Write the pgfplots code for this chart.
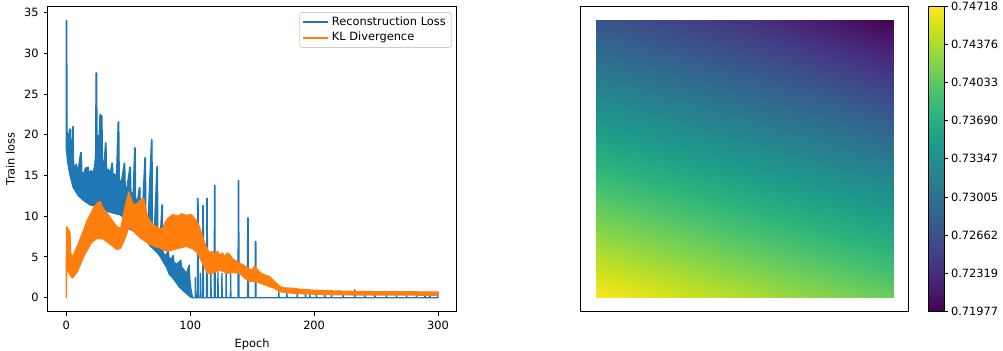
\documentclass[border=0pt]{standalone}
\usepackage{fontspec}
\setmainfont{DejaVu Sans}
\usepackage{pgfplots}
\pgfplotsset{compat=1.18}
\definecolor{tabblue}{HTML}{1F77B4}
\definecolor{taborange}{HTML}{FF7F0E}
\definecolor{legframe}{HTML}{CCCCCC}
\newcommand{\mplfont}{\fontsize{8.2}{9.8}\selectfont}
\pgfplotsset{
  mpl/.style={
    scale only axis,
    /pgf/number format/assume math mode=true,
    tick label style={font=\mplfont, black},
    label style={font=\mplfont},
    axis line style={line width=0.65pt, black},
    tick style={line width=0.65pt, black},
    tick align=outside,
    major tick length=2.9pt,
    xtick pos=bottom, ytick pos=left,
  }
}
\begin{document}
\begin{tikzpicture}
\begin{axis}[mpl,
  at={(34.3pt,27.6pt)}, anchor=south west,
  width=294.5pt, height=220.1pt,
  xmin=-15, xmax=315, ymin=-1.72, ymax=35.82,
  xtick={0,100,200,300}, ytick={0,5,...,35},
  xlabel={Epoch}, ylabel={Train loss},
  legend style={at={(1,1)}, anchor=north east, xshift=-3.6pt, yshift=-4.4pt,
    draw=legframe, rounded corners=1.6pt, fill=white, line width=0.5pt,
    font=\mplfont, inner xsep=2pt, inner ysep=1.2pt, row sep=-0.6pt},
  legend cell align=left,
  legend image code/.code={\draw[#1, line width=1.22pt] (0pt,0pt) -- (18pt,0pt);},
]
\addlegendimage{tabblue}
\addlegendentry{Reconstruction Loss}
\addlegendimage{taborange}
\addlegendentry{KL Divergence}
% Reconstruction loss: band outline (upper envelope with spikes, then lower envelope back)
\addplot[fill=tabblue, draw=tabblue, line width=0.9pt, line join=round, forget plot] coordinates {
(0,18) (0,34.0) (0.4,34.0) (0.7,20.5) (1.5,19.3) (2.3,20.2) (2.9,20.7) (3.4,20.7) (3.8,17.2) (4.6,16.4)
(5.1,21.0) (5.6,21.0) (6.0,16.4) (7,15.9) (8,16.4) (9,15.7) (10,16.1) (11.6,17.8) (12.2,17.8) (12.6,15.4)
(14,15.2) (15.5,15.9) (17.2,16.0) (17.8,16.0) (18.3,15.1) (20,15.6) (21.5,15.3) (23,16.2) (23.8,18.0)
(24.0,27.6) (24.6,27.6) (24.9,17.2) (25.8,19.9) (26.6,19.9) (27.2,22.5) (28.8,22.3) (29.3,17.0) (30.5,16.0)
(31.6,19.0) (32.1,19.0) (32.5,15.5) (34,15.8) (35.5,15.2) (36.8,16.5) (37.3,16.5) (37.7,15.0) (39,15.2)
(40.5,14.6) (41.9,21.6) (42.4,21.6) (42.8,14.5) (44.5,14.2) (46.8,16.5) (47.2,16.5) (47.6,13.6) (49,13.5)
(51.3,16.0) (51.8,16.0) (52.2,13.0) (54,12.6) (55.2,18.4) (55.6,18.4) (56.0,12.2) (57.5,11.8) (58.9,13.5)
(59.4,13.5) (59.8,11.2) (61.5,10.6) (63.5,17.2) (63.9,17.2) (64.3,10.0) (66,9.4) (68.8,19.4) (69.2,19.4)
(69.6,8.6) (71,8.0) (73.2,16.1) (73.6,16.1) (74.0,7.0) (75.5,6.3) (77.2,11.4) (77.6,11.4) (78.0,5.6)
(80,5.1) (82.4,5.8) (82.8,5.0) (84.5,4.7) (86.4,5.2) (86.8,4.4) (89,4.1) (92.5,4.6) (92.9,3.8) (95,3.4)
(97,3.0) (99.2,4.0) (99.6,2.5) (100.5,1.2) (101.5,0.3) (102,0)
(104,0) (104.2,2.5) (104.5,0) (105.8,0) (106.0,12.2) (106.4,12.2) (106.6,0) (108,0) (108.2,3.0) (108.5,0)
(110.0,0) (110.2,11.3) (110.6,11.3) (110.8,0) (113.2,0) (113.4,12.2) (113.8,12.2) (114.0,0)
(116.5,0) (116.7,3.2) (117,0) (119.4,0) (119.6,13.8) (120.0,13.8) (120.2,0) (122.2,0) (122.4,3.2) (122.7,0)
(125.4,0) (125.6,3.0) (125.9,0) (128.8,0) (129.0,3.2) (129.3,0) (132.4,0) (132.6,3.2) (132.9,0)
(138.6,0) (138.8,14.4) (139.2,14.4) (139.4,0) (146.2,0) (146.4,9.8) (146.8,9.8) (147.0,0)
(152.4,0) (152.6,6.9) (153.0,6.9) (153.2,0)
(171.3,0) (171.5,0.7) (171.8,0) (177.8,0) (178,0.6) (178.3,0) (186.2,0) (186.4,0.8) (186.7,0)
(192.8,0) (193,0.7) (193.3,0) (196.3,0) (196.5,0.6) (196.8,0) (201.6,0) (201.8,0.7) (202.1,0)
(208.4,0) (208.6,0.8) (208.9,0) (213.8,0) (214,0.9) (214.3,0) (223.2,0) (223.4,0.6) (223.7,0)
(232.6,0) (232.8,1.0) (233.1,0) (240.7,0) (240.9,0.7) (241.2,0) (248.8,0) (249,0.7) (249.3,0)
(258.2,0) (258.4,0.7) (258.7,0) (266.3,0) (266.5,0.6) (266.8,0) (274.3,0) (274.5,0.6) (274.8,0)
(282.4,0) (282.6,0.6) (282.9,0) (289.2,0) (289.4,0.7) (289.7,0) (293.3,0) (293.5,0.6) (293.8,0)
(299.8,0) (300,0.7) (300,0)
(102,0) (100,0.1) (97,0.5) (94,0.9) (91,1.35) (88,2.0) (85,2.6) (83,2.9) (81,3.7) (79,4.2) (76,5.0)
(73.6,5.5) (71,5.9) (68,6.3) (65,6.9) (62.8,7.3) (60,7.6) (57.4,7.9) (54,8.2) (50.6,8.5) (48,9.3) (46,9.9)
(43,10.2) (40,10.3) (37.6,10.4) (33,10.6) (29.6,10.8) (24,11.2) (19,11.4) (13.4,12.0) (9.4,12.6) (5.4,13.6)
(2.7,15.3) (1,16.8) (0.3,18.1) (0,18)
};
% KL divergence: band outline
\addplot[fill=taborange, draw=taborange, line width=0.9pt, line join=round, forget plot] coordinates {
(0,0) (0.2,8.7) (1,8.6) (2,8.3) (3,8.0) (3.6,5.5) (5,5.0) (6,5.3) (8,6.0) (10,6.7) (12,7.5) (14,8.3)
(17,9.5) (20,10.4) (22,11.0) (25,11.6) (27.5,11.8) (29,11.2) (30.5,10.8) (33,10.4) (37,9.5) (41,8.7)
(44,8.5) (46.5,10.4) (48,11.5) (49.5,12.4) (50.6,13.0) (52,12.3) (53.5,11.6) (55,11.4) (57.5,11.6)
(60,12.0) (62.5,12.2) (64,11.0) (65.5,10.0) (68,9.3) (71,8.9) (74,8.6) (76,8.4) (78,8.6) (80,9.3)
(82,9.75) (86,10.2) (90,10.0) (93,10.3) (97,10.1) (101,10.2) (103,9.8) (105,9.5) (107.5,8.7) (110,7.5)
(112,6.6) (114,5.9) (116,5.5) (118,5.7) (120,5.3) (122,5.7) (124,5.2) (126,5.5) (128,5.0) (130,5.5)
(132,5.3) (134,4.8) (136,4.6) (138,4.4) (140,4.2) (143,4.0) (145,3.8) (148,3.5) (150,3.4) (152,3.9)
(154,3.5) (157,3.0) (160,2.8) (164,2.6) (168,2.0) (172,1.4) (176,1.2) (183,1.15) (190,1.0) (196,0.95)
(210,0.85) (236,0.75) (270,0.72) (300,0.7)
(300,0.3) (270,0.32) (236,0.33) (210,0.38) (196,0.45) (183,0.54) (176,0.65) (172,0.75) (168,1.15)
(164,1.35) (160,1.6) (156,1.8) (153,2.0) (148,2.0) (144,2.4) (140,3.0) (135,3.1) (130,3.0) (124,3.4)
(118,3.0) (114,3.0) (110,4.2) (106,5.5) (102,6.0) (97,6.3) (89,6.0) (82,5.7) (78,5.9) (76,6.1) (71,6.3)
(66,6.7) (60,7.3) (56,7.9) (53,8.4) (50.6,8.7) (48,7.5) (44,6.1) (41,5.9) (36,6.5) (30,7.2) (25,7.3)
(20,6.7) (14,5.0) (9,3.2) (5,2.4) (2.2,3.0) (0.5,4.0) (0.1,0) (0,0)
};
\end{axis}
\begin{axis}[mpl,
  at={(418.1pt,27.6pt)}, anchor=south west,
  width=236.2pt, height=220.1pt,
  view={0}{90},
  xmin=-0.05, xmax=1.05, ymin=-0.05, ymax=1.05,
  xtick=\empty, ytick=\empty, ztick=\empty,
  colormap/viridis,
  point meta min=0.71977, point meta max=0.74718,
  colorbar,
  colorbar style={
    at={(parent axis.north east)}, anchor=north west, xshift=5.86pt,
    scale only axis, width=11pt, height=220.1pt,
    ytick={0.71977,0.723196,0.726623,0.730049,0.733475,0.736901,0.740328,0.743754,0.74718},
    yticklabels={0.71977,0.72319,0.72662,0.73005,0.73347,0.73690,0.74033,0.74376,0.74718},
    yticklabel pos=right, ytick pos=right,
    tick align=outside, major tick length=2.9pt,
    tick style={line width=0.65pt, black},
    axis line style={line width=0.65pt, black},
    yticklabel style={font=\mplfont, inner xsep=2pt},
  },
]
\addplot3[surf, shader=interp, mesh/cols=3, point meta=explicit] table[meta=c] {
x y z c
0 0 0 0.74718
0.5 0 0 0.74403
1 0 0 0.74088
0 0.5 0 0.73704
0.5 0.5 0 0.73389
1 0.5 0 0.73073
0 1 0 0.72690
0.5 1 0 0.72374
1 1 0 0.71977
};
\end{axis}
\pgfresetboundingbox
\path[use as bounding box] (0,0) rectangle (722.16pt,252pt);
\end{tikzpicture}
\end{document}
